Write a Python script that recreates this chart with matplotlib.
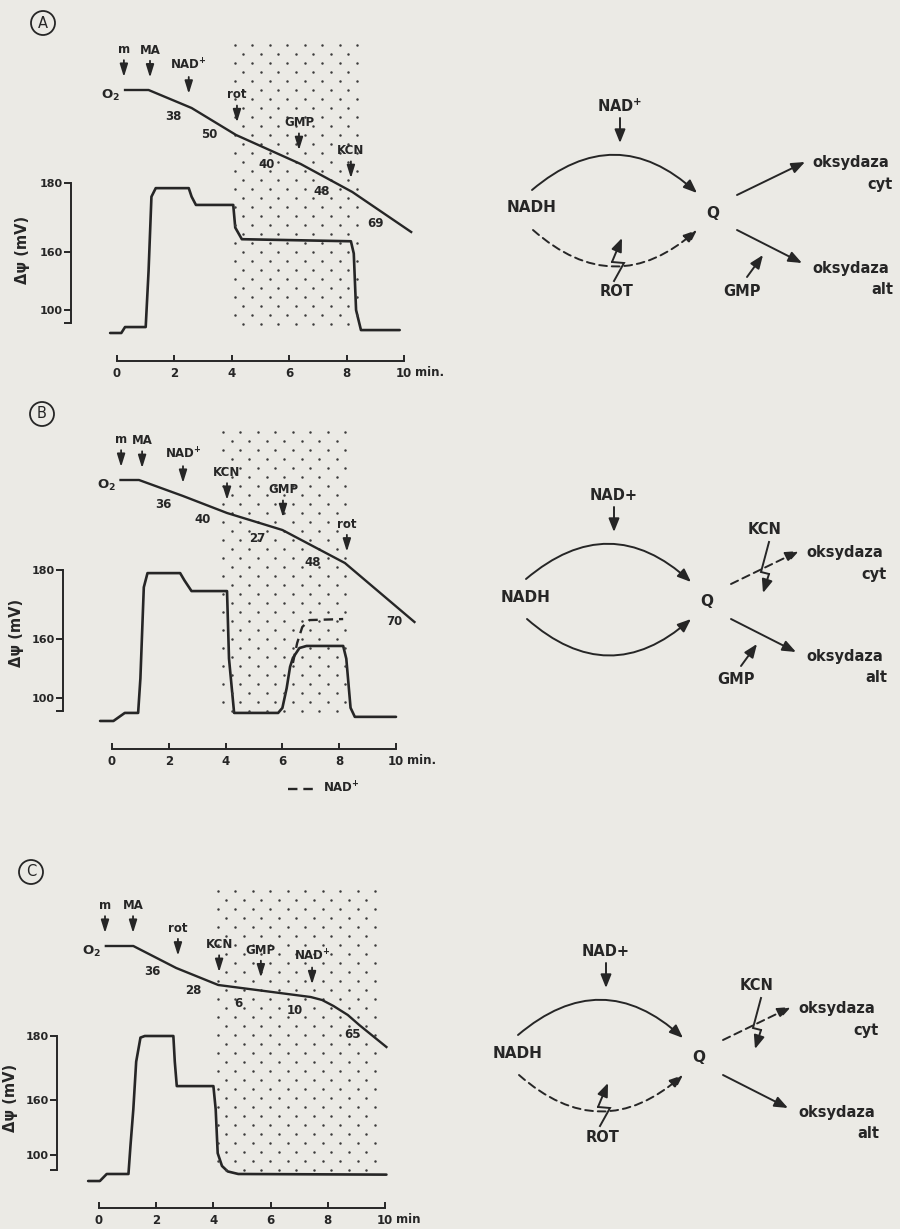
import numpy as np
import matplotlib.pyplot as plt
from matplotlib.patches import Circle, FancyArrowPatch

BG = '#ebeae5'
INK = '#262626'
DOT = '#3c3c3c'
W, H = 900, 1229

plt.rcParams['font.family'] = ['DejaVu Sans']
plt.rcParams['font.weight'] = 'bold'
plt.rcParams['mathtext.default'] = 'bf'

# ---------------- data ----------------
# panel A
psi_t_A = [-0.24, 0.15, 0.28, 1.0, 1.1, 1.2, 1.35, 2.5, 2.6, 2.75, 4.05, 4.12, 4.35, 8.15, 8.25, 8.33, 8.5, 9.85]
psi_A = [76.4, 76.4, 82.5, 82.5, 140, 176, 178.5, 178.5, 176, 173.6, 173.6, 167, 163.6, 163.0, 158, 100, 79.4, 79.4]
o2_t_A = [0.28, 1.1, 2.6, 4.15, 6.4, 8.2, 10.25]
o2_A = [240, 240, 222, 195, 166, 138, 98]
ev_A = ['m', 'MA', 'NAD$^{+}$', 'rot', 'GMP', 'KCN']
ev_t_A = [0.24, 1.15, 2.5, 4.18, 6.34, 8.15]
rate_A = [38, 50, 40, 48, 69]
rate_t_A = [1.95, 3.2, 5.2, 7.14, 9.0]
shade_A = (4.1, 8.45)

# panel B
psi_t_B = [-0.42, 0.05, 0.45, 0.92, 1.0, 1.12, 1.25, 2.4, 2.55, 2.8, 4.05, 4.12, 4.3, 5.85, 6.0,
           6.15, 6.27, 6.37, 6.6, 6.85, 8.14, 8.25, 8.4, 8.55, 10.0]
psi_B = [76.6, 76.6, 84.8, 84.8, 120, 175, 179.1, 179.1, 177, 173.9, 173.9, 140, 84.8, 84.8, 89.9,
         110, 131.7, 140.8, 150.9, 153, 153, 140, 90, 80.8, 80.8]
nad_t_B = [6.37, 6.52, 6.7, 6.95, 8.14]
nad_B = [135.7, 156, 163.5, 165.5, 165.8]
o2_t_B = [0.3, 0.95, 2.5, 4.05, 6.0, 8.2, 10.65]
o2_B = [240, 240, 224, 207, 190, 157, 98]
ev_B = ['m', 'MA', 'NAD$^{+}$', 'KCN', 'GMP', 'rot']
ev_t_B = [0.32, 1.06, 2.5, 4.05, 6.02, 8.27]
rate_B = [36, 40, 27, 48, 70]
rate_t_B = [1.8, 3.2, 5.1, 7.08, 9.96]
shade_B = (3.9, 8.4)

# panel C
psi_t_C = [-0.38, 0.03, 0.27, 1.03, 1.1, 1.2, 1.3, 1.45, 1.6, 2.6, 2.65, 2.72, 4.0, 4.08, 4.15,
           4.3, 4.5, 4.87, 10.05]
psi_C = [71.5, 71.5, 79.2, 79.2, 110, 150, 172, 179.5, 180, 180, 172, 164.4, 164.4, 150, 102,
         88, 82, 79.2, 78.5]
o2_t_C = [0.24, 1.2, 2.7, 4.17, 7.4, 7.8, 8.2, 8.7, 9.1, 10.05]
o2_C = [240, 240, 218, 201, 189, 186, 180, 171, 161, 139]
ev_C = ['m', 'MA', 'rot', 'KCN', 'GMP', 'NAD$^{+}$']
ev_t_C = [0.21, 1.19, 2.76, 4.2, 5.66, 7.45]
rate_C = [36, 28, 6, 10, 65]
rate_t_C = [1.85, 3.29, 4.86, 6.85, 8.85]
shade_C = (4.15, 9.85)

ticks_t = [0, 2, 4, 6, 8, 10]
ticks_psi = [100, 160, 180]


# broken mV scale (160-180 stretched)
def fwd(v):
    v = np.asarray(v, float)
    return np.where(v < 160, (v - 160) * 58 / 60, (v - 160) * 68 / 20)


def inv(u):
    u = np.asarray(u, float)
    return np.where(u < 0, u * 60 / 58 + 160, u * 20 / 68 + 160)


fig = plt.figure(figsize=(W / 100, H / 100), dpi=100)
fig.patch.set_facecolor(BG)


def panel(L, psi_t, psi, o2_t, o2, ev, ev_t, rates, rate_t, shade, min_txt='min.'):
    l, top, r, bot = L['box']
    ax = fig.add_axes([l / W, 1 - bot / H, (r - l) / W, (bot - top) / H])
    ax.patch.set_alpha(0)
    ppm = (L['t10'] - L['t0']) / 10.0
    ax.set_xlim((l - L['t0']) / ppm, (r - L['t0']) / ppm)
    k = 126.0 / (L['y100'] - L['y180'])

    def px2mv(y):
        return float(inv(68 - (y - L['y180']) * k))

    ax.set_yscale('function', functions=(fwd, inv))
    ax.set_ylim(px2mv(bot), px2mv(top))

    ax2 = ax.twinx()
    o0 = o2[0]
    ax2.set_ylim(o0 - (bot - L['o2y']), o0 + (L['o2y'] - top))
    for s in ax2.spines.values():
        s.set_visible(False)
    ax2.set_yticks([])

    # dotted area
    dx = 17.5 / ppm
    ys = np.arange(o0 + (L['o2y'] - L['sh'][0]), o0 - (L['sh'][1] - L['o2y']), -9.0)
    for i, yv in enumerate(ys):
        xs = np.arange(shade[0] + (i % 2) * dx / 2, shade[1], dx)
        ax2.scatter(xs, np.full_like(xs, yv), s=3.2, c=DOT, lw=0, zorder=1)

    ax.plot(psi_t, psi, color=INK, lw=1.9, solid_joinstyle='round', solid_capstyle='round', zorder=3)
    ax2.plot(o2_t, o2, color=INK, lw=1.7, solid_joinstyle='round', zorder=3)
    ax2.annotate('O$_2$', xy=(o2_t[0], o2[0]), xytext=(-5, -5), textcoords='offset pixels',
                 ha='right', va='center', fontsize=9.5, color=INK)

    for name, t in zip(ev, ev_t):
        yv = np.interp(t, o2_t, o2) + 13
        ax2.annotate(name, xy=(t, yv), xytext=(t, yv + 21), ha='center', va='bottom',
                     fontsize=8.5, color=INK,
                     arrowprops=dict(arrowstyle='-|>,head_length=0.9,head_width=0.28',
                                     color=INK, lw=1.3, shrinkA=1, shrinkB=0))
    for rv, t in zip(rates, rate_t):
        ax2.annotate(str(rv), xy=(t, np.interp(t, o2_t, o2)), xytext=(0, -16),
                     textcoords='offset pixels', ha='center', va='center', fontsize=8.5, color=INK)

    # axes
    for s in ['top', 'right']:
        ax.spines[s].set_visible(False)
    ybot_mv = px2mv(L['ybot'])
    xaxis_mv = px2mv(L['xaxis'])
    ax.spines['left'].set_position(('data', (L['yaxis'] - L['t0']) / ppm))
    ax.spines['left'].set_bounds(ybot_mv, 180)
    ax.spines['bottom'].set_position(('data', xaxis_mv))
    ax.spines['bottom'].set_bounds(0, 10)
    for s in ['left', 'bottom']:
        ax.spines[s].set_linewidth(1.4)
        ax.spines[s].set_color(INK)
    ax.set_yticks([ybot_mv] + ticks_psi)
    ax.set_yticklabels([''] + [str(v) for v in ticks_psi])
    ax.set_xticks(ticks_t)
    ax.set_xticklabels([str(v) for v in ticks_t])
    ax.tick_params(axis='y', direction='out', length=5, width=1.4, pad=1, labelsize=8,
                   colors=INK)
    ax.tick_params(axis='x', direction='in', length=4, width=1.4, pad=4, labelsize=8.5, colors=INK)
    ax.annotate(min_txt, xy=(10, xaxis_mv), xytext=(11, -5), textcoords='offset pixels',
                ha='left', va='top', fontsize=8.5, color=INK)
    ax.set_ylabel('Δψ (mV)', fontsize=10.5, color=INK, fontweight='bold')
    ax.yaxis.set_label_coords((L['lab'][0] - l) / (r - l), 1 - (L['lab'][1] - top) / (bot - top))
    return ax, ax2


LA = dict(box=(0, 30, 450, 390), t0=117, t10=404, y180=183, y100=310, o2y=90,
          xaxis=361, yaxis=71, ybot=323, sh=(45, 328), lab=(30, 250))
LB = dict(box=(0, 420, 450, 800), t0=112, t10=396, y180=570, y100=698, o2y=480,
          xaxis=749, yaxis=63, ybot=711, sh=(432, 712), lab=(24, 633))
LC = dict(box=(0, 880, 450, 1229), t0=99, t10=385, y180=1036, y100=1155, o2y=946,
          xaxis=1208, yaxis=57, ybot=1170, sh=(891, 1173), lab=(18, 1098))

axA, _ = panel(LA, psi_t_A, psi_A, o2_t_A, o2_A, ev_A, ev_t_A, rate_A, rate_t_A, shade_A)
axB, _ = panel(LB, psi_t_B, psi_B, o2_t_B, o2_B, ev_B, ev_t_B, rate_B, rate_t_B, shade_B)
axB.plot(nad_t_B, nad_B, color=INK, lw=1.7, ls=(0, (4, 2.5)), label='NAD$^{+}$', zorder=3)
l, top, r, bot = LB['box']
axB.legend(loc='center left', bbox_to_anchor=((288 - l) / (r - l), 1 - (788 - top) / (bot - top)),
           frameon=False, handlelength=2.4, handletextpad=0.6, fontsize=8.5, borderaxespad=0,
           borderpad=0, labelcolor=INK)
axC, _ = panel(LC, psi_t_C, psi_C, o2_t_C, o2_C, ev_C, ev_t_C, rate_C, rate_t_C, shade_C,
               min_txt='min')

# ---------------- schemes (pixel overlay) ----------------
ov = fig.add_axes([0, 0, 1, 1])
ov.set_xlim(0, W)
ov.set_ylim(H, 0)
ov.axis('off')
ov.patch.set_alpha(0)

for (cx, cy), letter in zip([(43, 23), (42, 414), (31, 872)], ['A', 'B', 'C']):
    ov.add_patch(Circle((cx, cy), 12, fill=False, lw=1.3, ec=INK))
    ov.text(cx, cy, letter, ha='center', va='center', fontsize=10.5, color=INK,
            fontweight='normal')


def arrow(p0, p1, rad=0.0, ls='-'):
    ov.add_patch(FancyArrowPatch(p0, p1, arrowstyle='-|>,head_length=0.8,head_width=0.32',
                                 mutation_scale=10, connectionstyle='arc3,rad=%g' % rad,
                                 color=INK, lw=1.4, ls=ls, shrinkA=0, shrinkB=0))


def bolt(pts):
    xs = [p[0] for p in pts[:-1]]
    ys = [p[1] for p in pts[:-1]]
    ov.plot(xs, ys, color=INK, lw=1.4, solid_joinstyle='miter')
    arrow(pts[-2], pts[-1])


DASH = (0, (4, 2.5))
FS = 10.5


def scheme(dx, dy, nad, lower_dashed, cyt_dashed, rot, kcn, gmp):
    def P(x, y):
        return (x + dx, y + dy)

    ov.text(*P(620, 106), nad, ha='center', va='center', fontsize=FS, color=INK)
    arrow(P(620, 118), P(620, 143))
    arrow(P(532, 190), P(697, 193), rad=-0.44)
    arrow(P(533, 230), P(697, 230), rad=0.44, ls=DASH if lower_dashed else '-')
    ov.text(*P(532, 208), 'NADH', ha='center', va='center', fontsize=11, color=INK)
    ov.text(*P(713, 213), 'Q', ha='center', va='center', fontsize=11, color=INK)
    arrow(P(737, 195), P(805, 162), ls=DASH if cyt_dashed else '-')
    arrow(P(737, 230), P(802, 263))
    ov.text(*P(812, 163), 'oksydaza', ha='left', va='center', fontsize=FS, color=INK)
    ov.text(*P(893, 185), 'cyt', ha='right', va='center', fontsize=FS, color=INK)
    ov.text(*P(812, 268), 'oksydaza', ha='left', va='center', fontsize=FS, color=INK)
    ov.text(*P(893, 289), 'alt', ha='right', va='center', fontsize=FS, color=INK)
    if rot:
        bolt([P(614, 281), P(624, 263), P(612, 262), P(622, 238)])
        ov.text(*P(617, 292), 'ROT', ha='center', va='center', fontsize=FS, color=INK)
    if kcn:
        bolt([P(775, 153), P(767, 183), P(775, 185), P(769, 204)])
        ov.text(*P(771, 140), 'KCN', ha='center', va='center', fontsize=FS, color=INK)
    if gmp:
        arrow(P(747, 277), P(763, 255))
        ov.text(*P(742, 291), 'GMP', ha='center', va='center', fontsize=FS, color=INK)


scheme(0, 0, 'NAD$^{+}$', True, False, True, False, True)
scheme(-6, 389, 'NAD+', False, True, False, True, True)
scheme(-14, 845, 'NAD+', True, True, True, True, False)

fig.savefig('out.png', dpi=100, facecolor=BG)
